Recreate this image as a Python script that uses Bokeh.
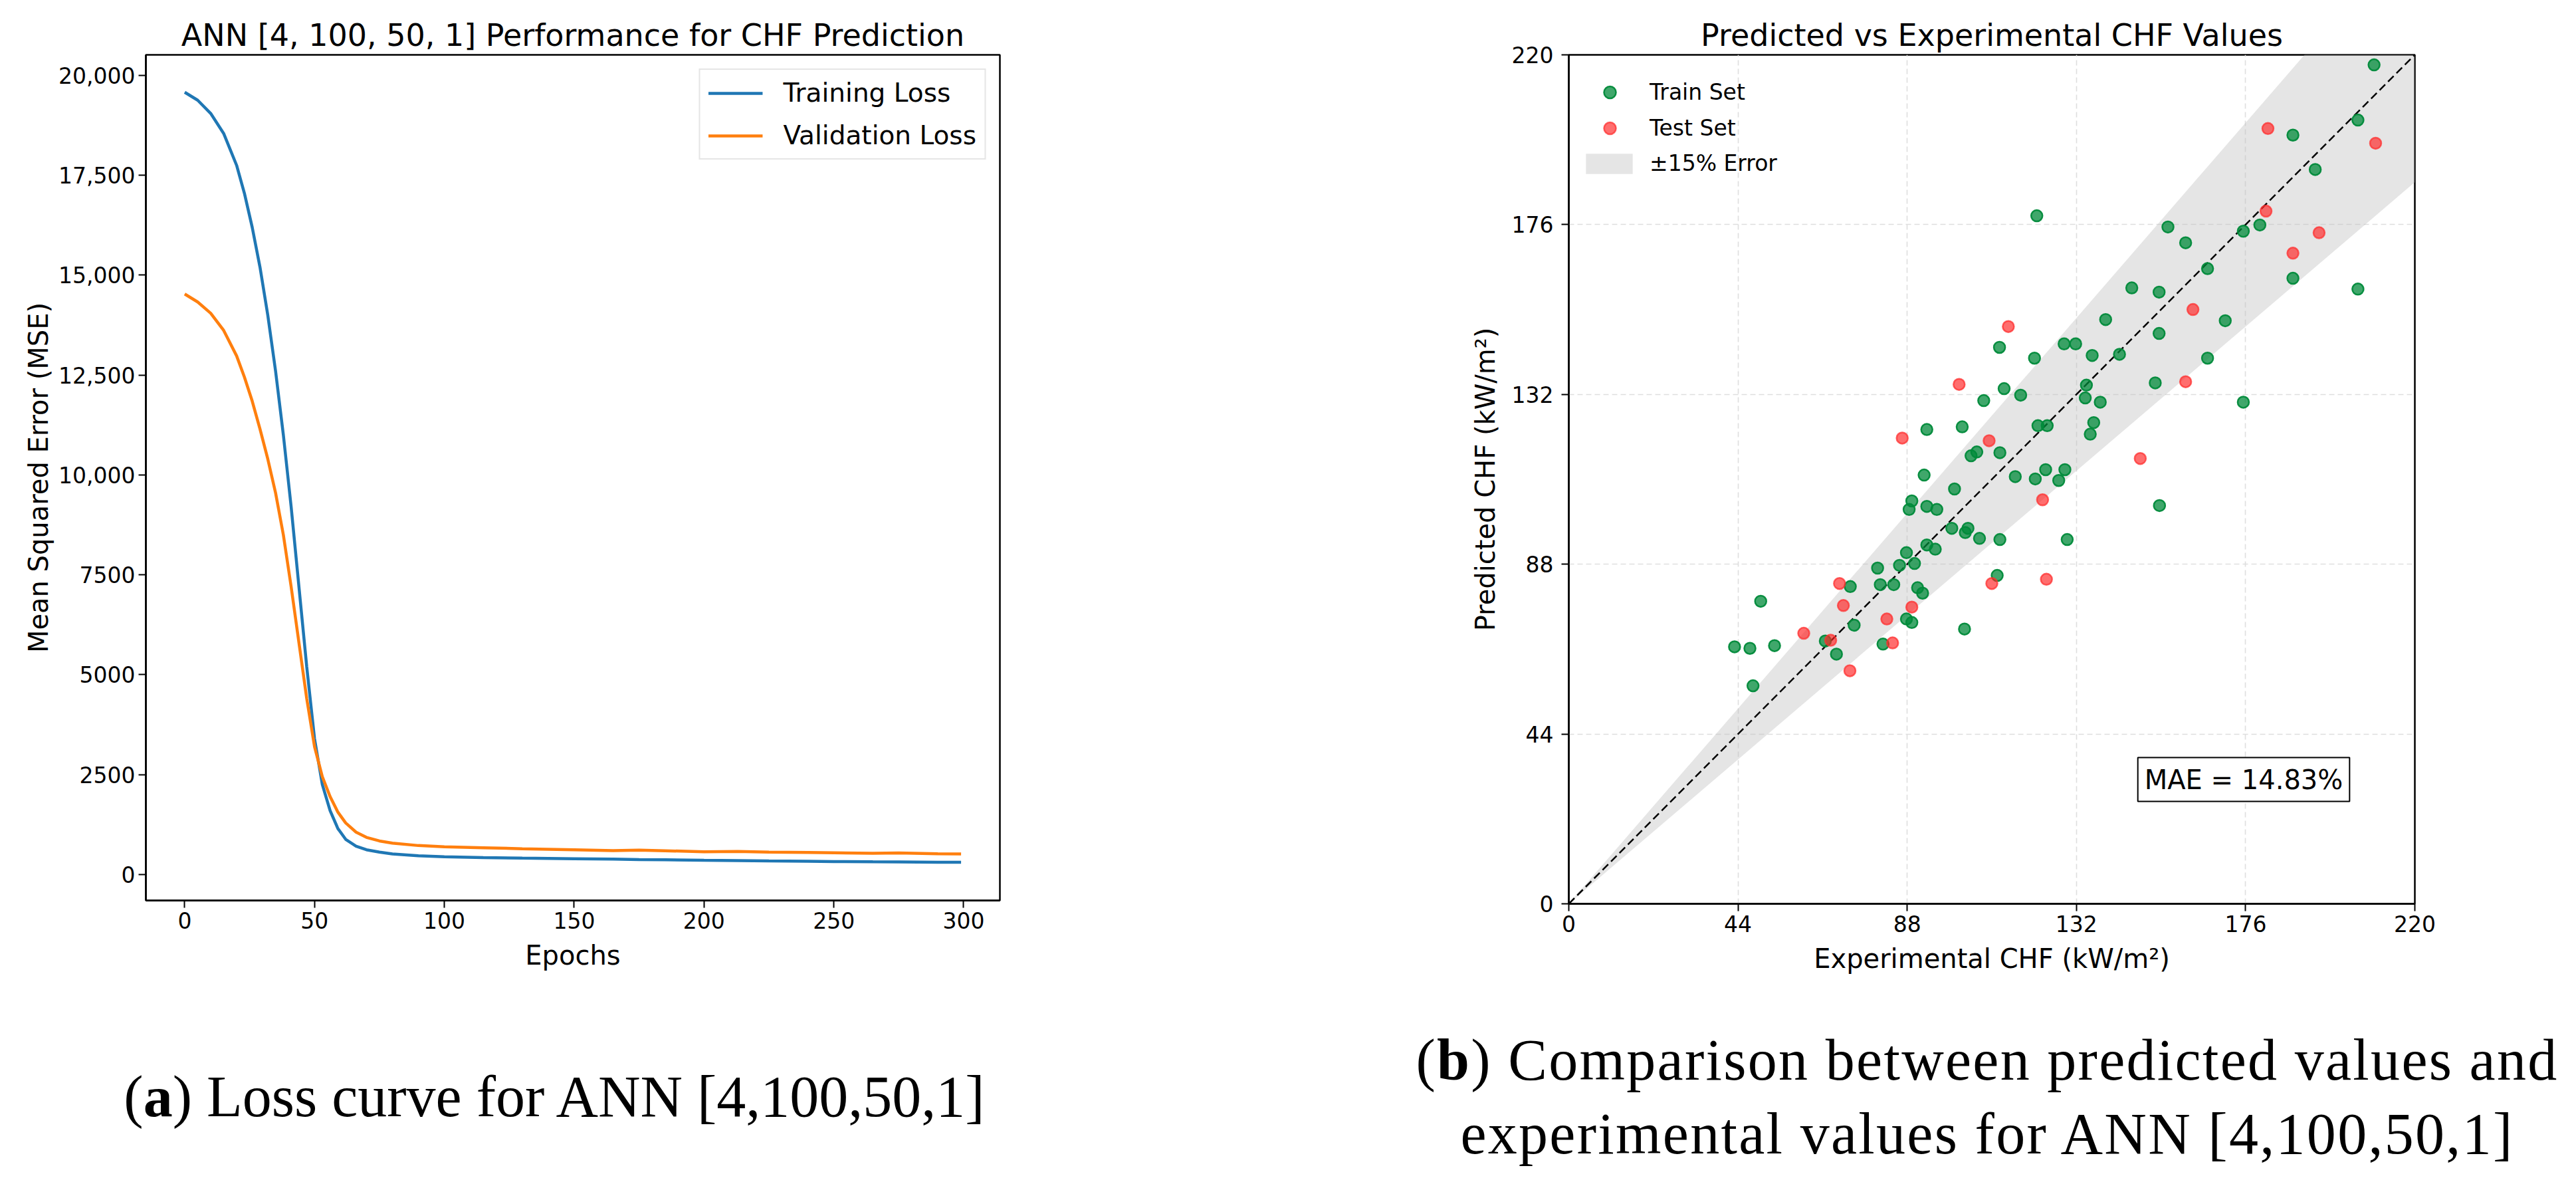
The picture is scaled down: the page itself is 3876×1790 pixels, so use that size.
from bokeh.plotting import figure
from bokeh.models import FixedTicker, Legend, LegendItem, Label, Div, Range1d
from bokeh.layouts import row, column
from bokeh.embed import file_html
from bokeh.resources import INLINE

# ---------------- data: loss curves (panel a) ----------------
epochs = [0, 5, 10, 15, 20, 23, 26, 29, 32, 35, 38, 41, 44, 47, 50, 53, 56, 59, 62, 66,
          70, 75, 80, 90, 100, 115, 130, 150, 165, 175, 185, 200, 213, 225, 240, 250,
          265, 275, 290, 299]
train_loss = [19580, 19380, 19050, 18550, 17750, 17050, 16200, 15200, 14000, 12600,
              11000, 9200, 7200, 5200, 3400, 2250, 1600, 1150, 880, 710,
              620, 560, 515, 470, 445, 425, 410, 395, 385, 375,
              368, 355, 348, 340, 332, 325, 318, 314, 308, 305]
val_loss = [14530, 14330, 14050, 13620, 12980, 12450, 11850, 11150, 10400, 9550,
            8500, 7200, 5800, 4400, 3200, 2450, 1950, 1560, 1290, 1060,
            930, 840, 785, 725, 695, 670, 645, 620, 600, 612,
            595, 568, 578, 560, 552, 545, 532, 538, 520, 515]
x_ticks_a = [0, 50, 100, 150, 200, 250, 300]
y_ticks_a = [0, 2500, 5000, 7500, 10000, 12500, 15000, 17500, 20000]
y_labels_a = ["0", "2500", "5000", "7500", "10,000", "12,500", "15,000", "17,500", "20,000"]

# ---------------- data: predicted vs experimental (panel b) ----------------
train_exp = [113.2, 117.5, 107.9, 93.1, 102.3, 122.0, 104.6, 106.1, 112.1, 92.4,
             116.1, 121.3, 100.3, 89.2, 88.5, 93.1, 95.7, 99.6, 103.8, 103.1,
             106.8, 112.1, 93.1, 95.3, 87.8, 86.0, 89.9, 80.3, 73.2, 81.0,
             84.5, 90.7, 92.0, 111.4, 49.9, 87.8, 89.2, 74.2, 102.9, 66.7,
             43.1, 47.1, 53.5, 81.7, 69.6, 47.9, 134.6, 152.5, 134.3, 138.2,
             175.4, 124.4, 136.5, 135.6, 124.0, 129.0, 127.4, 153.6, 129.6, 209.4,
             205.2, 188.3, 194.1, 121.7, 155.8, 179.7, 175.4, 160.4, 166.1, 188.3,
             205.2, 146.4, 153.5, 139.6, 170.7, 153.5, 128.8, 131.8, 121.1, 136.1,
             143.2, 166.1, 112.0]
train_pred = [133.5, 131.8, 130.4, 122.9, 123.6, 123.9, 116.1, 117.1, 116.9, 111.1,
              110.7, 110.1, 107.5, 104.4, 102.2, 103.0, 102.2, 97.3, 97.3, 96.2,
              94.7, 94.4, 93.0, 91.9, 91.0, 87.7, 88.2, 87.0, 82.2, 82.7,
              82.7, 81.9, 80.5, 85.1, 78.4, 73.8, 72.9, 72.2, 71.2, 68.1,
              66.6, 66.2, 66.9, 67.3, 64.7, 56.5, 134.4, 135.0, 131.1, 130.0,
              130.0, 123.9, 124.7, 121.7, 112.5, 112.5, 109.7, 103.2, 94.4, 217.4,
              203.1, 199.2, 190.3, 178.3, 175.4, 175.9, 174.3, 171.3, 164.6, 162.1,
              159.3, 159.6, 158.5, 151.4, 151.1, 147.8, 145.1, 145.1, 141.4, 142.1,
              142.4, 141.4, 144.2]
test_exp = [101.5, 86.7, 109.3, 123.2, 70.4, 110.0, 124.2, 71.4, 89.2, 82.7,
            61.1, 68.1, 84.2, 73.1, 160.4, 148.6, 181.8, 209.8, 181.3, 195.1,
            188.3, 162.3, 114.3]
test_pred = [134.6, 120.7, 120.0, 104.7, 83.0, 83.0, 84.1, 77.3, 76.9, 73.8,
             70.1, 68.3, 67.6, 60.4, 135.3, 115.4, 200.9, 197.1, 179.5, 173.9,
             168.6, 154.0, 149.6]
ticks_b = [0, 44, 88, 132, 176, 220]
ideal_x = [0, 220]
error_band = 0.15
mae_text = "MAE = 14.83%"

FONT = "DejaVu Sans"


def style_axes(p, label_standoff):
    for ax in list(p.xaxis) + list(p.yaxis):
        ax.major_tick_out = 11
        ax.major_tick_in = 0
        ax.minor_tick_out = 0
        ax.minor_tick_in = 0
        ax.major_tick_line_width = 2
        ax.major_tick_line_color = "black"
        ax.axis_line_width = 2.5
        ax.axis_line_color = "black"
        ax.major_label_text_font = FONT
        ax.major_label_text_font_size = "33px"
        ax.major_label_text_color = "black"
        ax.major_label_standoff = 6
        ax.axis_label_text_font = FONT
        ax.axis_label_text_font_size = "40px"
        ax.axis_label_text_font_style = "normal"
        ax.axis_label_text_color = "black"
    p.yaxis.major_label_standoff = label_standoff
    p.outline_line_color = "black"
    p.outline_line_width = 2.5
    p.outline_line_alpha = 1.0
    p.title.text_font = FONT
    p.title.text_font_size = "46px"
    p.title.text_font_style = "normal"
    p.title.text_color = "black"
    p.title.align = "center"
    p.title.standoff = 6


# ---------------- panel a ----------------
pA = figure(frame_width=1285, frame_height=1272,
            min_border_left=219, min_border_right=396, min_border_top=82, min_border_bottom=158,
            x_range=Range1d(-14.95, 313.95), y_range=Range1d(-650, 20516),
            title="ANN [4, 100, 50, 1] Performance for CHF Prediction",
            output_backend="svg", toolbar_location=None)
style_axes(pA, 5)
pA.xgrid.visible = False
pA.ygrid.visible = False
pA.xaxis.ticker = FixedTicker(ticks=x_ticks_a)
pA.yaxis.ticker = FixedTicker(ticks=y_ticks_a)
pA.yaxis.major_label_overrides = {t: l for t, l in zip(y_ticks_a, y_labels_a)}
pA.xaxis.axis_label = "Epochs"
pA.yaxis.axis_label = "Mean Squared Error (MSE)"
pA.xaxis.axis_label_standoff = 14
pA.yaxis.axis_label_standoff = 4

r_tr = pA.line(epochs, train_loss, line_color="#1f77b4", line_width=4.5)
r_va = pA.line(epochs, val_loss, line_color="#ff7f0e", line_width=4.5)
legA = Legend(items=[LegendItem(label="Training Loss", renderers=[r_tr]),
                     LegendItem(label="Validation Loss", renderers=[r_va])],
              location="top_right", margin=21, padding=12,
              glyph_width=82, glyph_height=40, label_height=40, spacing=19,
              label_standoff=31, label_text_font=FONT, label_text_font_size="39px",
              label_text_color="black",
              border_line_color="#cccccc", border_line_width=2,
              background_fill_color="white", background_fill_alpha=0.8)
pA.add_layout(legA)

# ---------------- panel b ----------------
pB = figure(frame_width=1273, frame_height=1277,
            min_border_left=460, min_border_right=227, min_border_top=80, min_border_bottom=155,
            x_range=Range1d(0, 220), y_range=Range1d(0, 220),
            title="Predicted vs Experimental CHF Values",
            output_backend="svg", toolbar_location=None)
style_axes(pB, 12)
pB.xaxis.ticker = FixedTicker(ticks=ticks_b)
pB.yaxis.ticker = FixedTicker(ticks=ticks_b)
pB.xgrid.ticker = FixedTicker(ticks=ticks_b)
pB.ygrid.ticker = FixedTicker(ticks=ticks_b)
for g in (pB.xgrid, pB.ygrid):
    g.grid_line_color = "#dedede"
    g.grid_line_dash = "8 5"
    g.grid_line_width = 1.6
pB.xaxis.axis_label = "Experimental CHF (kW/m²)"
pB.yaxis.axis_label = "Predicted CHF (kW/m²)"
pB.xaxis.axis_label_standoff = 14
pB.yaxis.axis_label_standoff = 14

band_lo = [v * (1 - error_band) for v in ideal_x]
band_hi = [v * (1 + error_band) for v in ideal_x]
r_band = pB.varea(x=ideal_x, y1=band_lo, y2=band_hi, fill_color="#bdbdbd", fill_alpha=0.4)
pB.line(ideal_x, ideal_x, line_color="black", line_dash="12 6", line_width=2.5)
r_train = pB.scatter(train_exp, train_pred, marker="circle", size=17,
                     fill_color="#008a3a", fill_alpha=0.75,
                     line_color="#008a3a", line_alpha=0.95, line_width=2.5)
r_test = pB.scatter(test_exp, test_pred, marker="circle", size=17,
                    fill_color="#ff2020", fill_alpha=0.65,
                    line_color="#ff3030", line_alpha=0.75, line_width=2.5)

legB1 = Legend(items=[LegendItem(label="Train Set", renderers=[r_train]),
                      LegendItem(label="Test Set", renderers=[r_test])],
               location=(27, 1144), margin=0, padding=0,
               glyph_width=70, glyph_height=45, label_height=45, spacing=9,
               label_standoff=25, label_text_font=FONT, label_text_font_size="33px",
               label_text_color="black",
               border_line_alpha=0, background_fill_alpha=0)
legB2 = Legend(items=[LegendItem(label="±15% Error", renderers=[r_band])],
               location=(17, 1094), margin=0, padding=0,
               glyph_width=88, glyph_height=38, label_height=38, spacing=0,
               label_standoff=17, label_text_font=FONT, label_text_font_size="33px",
               label_text_color="black",
               border_line_alpha=0, background_fill_alpha=0)
pB.add_layout(legB1)
pB.add_layout(legB2)

mae = Label(x=175.5, y=32.2, text=mae_text, text_align="center", text_baseline="middle",
            text_font=FONT, text_font_size="40px", text_color="black",
            border_line_color="black", border_line_width=2,
            background_fill_color="white", background_fill_alpha=1.0, padding=10)
pB.add_layout(mae)

# ---------------- captions ----------------
cap_style = ("font-family:'Liberation Serif';font-size:88px;color:#000;white-space:nowrap;"
             "text-align:center;box-sizing:border-box;height:249px;padding-top:27px;")
capA = Div(text=f'<div style="{cap_style}width:1668px;line-height:222px;">'
                '(<b>a</b>) Loss curve for ANN [4,100,50,1]</div>',
           width=1900, height=260, margin=0)
capB = Div(text=f'<div style="{cap_style}width:1740px;margin-left:220px;line-height:111px;'
                'letter-spacing:2.3px;">'
                '(<b>b</b>) Comparison between predicted values and<br>'
                'experimental values for ANN [4,100,50,1]</div>',
           width=1960, height=260, margin=0)

layout = column(row(pA, pB), row(capA, capB))
with open("out.html", "w") as f:
    f.write(file_html(layout, INLINE))
